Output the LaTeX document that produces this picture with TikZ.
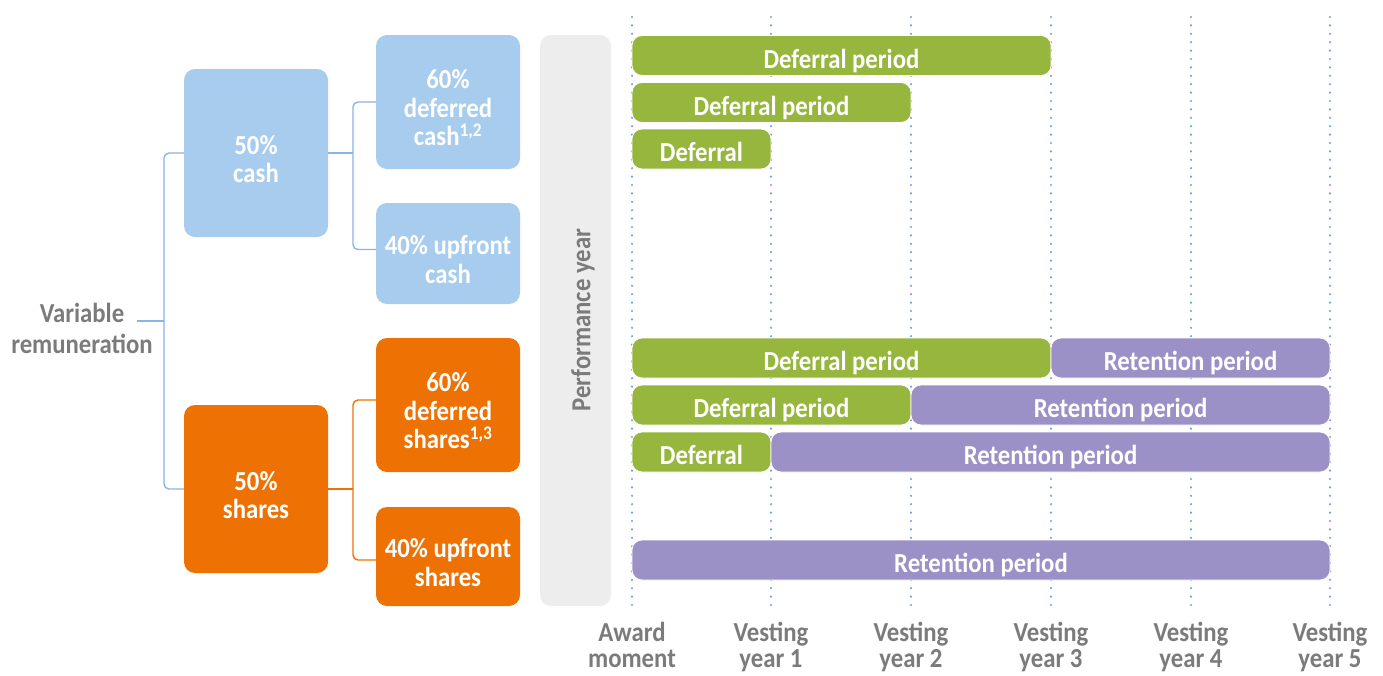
\documentclass[tikz,border=0pt]{standalone}
\usepackage{fontspec}
\setmainfont{Carlito}[FakeStretch=0.9]
\usetikzlibrary{calc}
\definecolor{boxblue}{HTML}{A7CCEE}
\definecolor{ingorange}{HTML}{EE7203}
\definecolor{bargreen}{HTML}{96B63D}
\definecolor{barpurple}{HTML}{9C91C6}
\definecolor{txtgrey}{HTML}{7B7B7B}
\definecolor{perfgrey}{HTML}{EDEDED}
\definecolor{linkblue}{HTML}{8AB4E6}
\definecolor{dotblue}{HTML}{6FA0E0}
\tikzset{
  lbl/.style={font=\bfseries\fontsize{27.5}{28.5}\selectfont},
  boxshape/.style={rounded corners=11pt, inner sep=0pt, minimum width=144pt},
  cashbox/.style={boxshape, fill=boxblue},
  sharebox/.style={boxshape, fill=ingorange},
  boxtext/.style={lbl, text=white, align=center, inner sep=0pt},
  bar/.style={lbl, text=white, rounded corners=10pt, inner sep=0pt, minimum height=40pt,
    text height=25pt, text depth=0pt, draw=white, line width=0.8pt},
  defbar/.style={bar, fill=bargreen},
  retbar/.style={bar, fill=barpurple},
  bluelink/.style={draw=linkblue, line width=1.4pt, rounded corners=5pt},
  orangelink/.style={draw=ingorange, line width=1.4pt, rounded corners=5pt},
  vgrid/.style={draw=dotblue, line width=2.4pt, line cap=round, dash pattern=on 0pt off 8.4pt},
  axislbl/.style={text=txtgrey, align=center, inner sep=0pt, anchor=north,
    font=\bfseries\fontsize{27.5}{26}\selectfont},
}
\begin{document}
\begin{tikzpicture}[x=1pt,y=-1pt]
\useasboundingbox (0,0) rectangle (1383,675);
\fill[white] (0,0) rectangle (1383,675);

% vertical dotted time lines
\foreach \xx in {632,771,911,1051,1191,1330}
  \draw[vgrid] (\xx,17) -- (\xx,606);

% performance year column
\node[fill=perfgrey, rounded corners=11pt, minimum width=71pt, minimum height=571pt, inner sep=0pt] (perf) at (575.5,320.5) {};
\node[lbl, text=txtgrey, rotate=90, inner sep=0pt] (perfT) at (583,320) {Performance year};

% left tree
\node[lbl, text=txtgrey, align=center, inner sep=0pt, anchor=north,
      font=\bfseries\fontsize{27.5}{31}\selectfont] (var) at (82,303) {Variable\\remuneration};

\node[cashbox, minimum height=168pt] (cash) at (256,153) {};
\node[boxtext] (cashT) at ([yshift=-6pt]cash.center) {50\%\\cash};
\node[cashbox, minimum height=134pt] (dcash) at (448,102) {};
\node[boxtext] (dcashT) at ([yshift=-6pt]dcash.center) {60\%\\deferred\\cash\textsuperscript{1,2}};
\node[cashbox, minimum height=101pt] (ucash) at (448,253.5) {};
\node[boxtext] (ucashT) at ([yshift=-6pt]ucash.center) {40\% upfront\\cash};

\node[sharebox, minimum height=168pt] (shares) at (256,489) {};
\node[boxtext] (sharesT) at ([yshift=-6pt]shares.center) {50\%\\shares};
\node[sharebox, minimum height=134pt] (dshares) at (448,405) {};
\node[boxtext] (dsharesT) at ([yshift=-6pt]dshares.center) {60\%\\deferred\\shares\textsuperscript{1,3}};
\node[sharebox, minimum height=99pt] (ushares) at (448,556.5) {};
\node[boxtext] (usharesT) at ([yshift=-6pt]ushares.center) {40\% upfront\\shares};

\coordinate (vstart) at (137,321);
\coordinate (vjoin) at (164,321);
\draw[bluelink] (vstart) -- (vjoin);
\draw[bluelink] (cash.west) -| (vjoin) |- (shares.west);

\coordinate (cjoin) at (353,153);
\draw[bluelink] (cash.east) -- (cjoin);
\draw[bluelink] (dcash.west) -| (cjoin) |- ([yshift=4pt]ucash.west);

\coordinate (sjoin) at (353,489);
\draw[orangelink] (shares.east) -- (sjoin);
\draw[orangelink] ([yshift=5pt]dshares.west) -| (sjoin) |- ([yshift=-3.5pt]ushares.west);

% bars, cash
\node[defbar, minimum width=419pt] (b1) at (841.5,55.5) {Deferral period};
\node[defbar, minimum width=279pt] (b2) at (771.5,102.5) {Deferral period};
\node[defbar, minimum width=139pt] (b3) at (701.5,149) {Deferral};

% bars, shares
\node[defbar, minimum width=419pt] (b4) at (841.5,358) {Deferral period};
\node[retbar, minimum width=279pt] (b5) at (1190.5,358) {Retention period};
\node[defbar, minimum width=279pt] (b6) at (771.5,405) {Deferral period};
\node[retbar, minimum width=419pt] (b7) at (1120.5,405) {Retention period};
\node[defbar, minimum width=139pt] (b8) at (701.5,452) {Deferral};
\node[retbar, minimum width=559pt] (b9) at (1050.5,452) {Retention period};
\node[retbar, minimum width=698pt] (b10) at (981,560) {Retention period};

% axis labels
\node[axislbl] (t0) at (632,622) {Award\\moment};
\node[axislbl] (t1) at (771,622) {Vesting\\year 1};
\node[axislbl] (t2) at (911,622) {Vesting\\year 2};
\node[axislbl] (t3) at (1051,622) {Vesting\\year 3};
\node[axislbl] (t4) at (1191,622) {Vesting\\year 4};
\node[axislbl] (t5) at (1330,622) {Vesting\\year 5};
\end{tikzpicture}
\end{document}
